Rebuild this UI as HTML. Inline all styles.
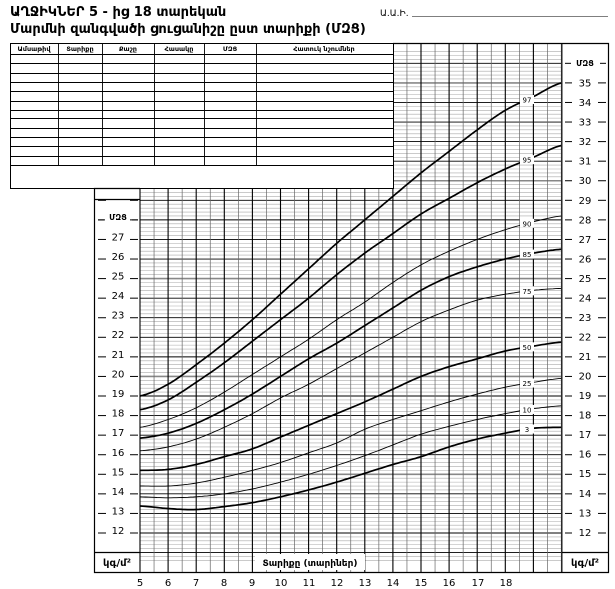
<!DOCTYPE html>
<html><head><meta charset="utf-8">
<style>
html,body{margin:0;padding:0;background:#fff;}
svg{display:block;}
text{font-family:"DejaVu Sans","Liberation Sans",sans-serif;}
</style></head>
<body>
<svg id="s" width="615" height="589" viewBox="0 0 615 589" xmlns="http://www.w3.org/2000/svg">
<g id="grid"></g>
<g id="curves"></g>
<!-- table cover -->
<rect x="0" y="40" width="393" height="148" fill="#fff"/>
<rect x="10.5" y="43.5" width="383" height="145" fill="#fff" stroke="#000" stroke-width="1"/>
<g id="tbl" stroke="#000" stroke-width="0.9"></g>
<g font-size="6.5" font-weight="bold" text-anchor="middle">
<text x="34" y="51">Ամսաթիվ</text><text x="80" y="51">Տարիքը</text><text x="128" y="51">Քաշը</text>
<text x="179" y="51">Հասակը</text><text x="230" y="51">ՄԶՑ</text><text x="324" y="51">Հատուկ նշումներ</text>
</g>
<!-- titles -->
<text x="10" y="16" font-size="13" font-weight="bold">ԱՂՋԻԿՆԵՐ  5 - ից 18 տարեկան</text>
<text x="10" y="33" font-size="13" font-weight="bold">Մարմնի զանգվածի ցուցանիշը ըստ տարիքի (ՄԶՑ)</text>
<text x="380" y="16" font-size="9">Ա.Ա.Ի.</text>
<line x1="412" y1="16.5" x2="608" y2="16.5" stroke="#555" stroke-width="0.8"/>
<!-- frames -->
<g fill="none" stroke="#000" stroke-width="1.2">
<polyline points="393,43.5 608.5,43.5 608.5,572.5 94.5,572.5 94.5,188.5 140,188.5"/>
<line x1="94" y1="199.5" x2="140" y2="199.5"/>
<line x1="94" y1="552.5" x2="140" y2="552.5"/>
<line x1="562" y1="552.5" x2="608" y2="552.5"/>
</g>
<rect x="255" y="554" width="110" height="16" fill="#fff"/>
<text x="310" y="566" font-size="9" text-anchor="middle" font-weight="bold">Տարիքը (տարիներ)</text>
<text x="117" y="566" font-size="10" text-anchor="middle" font-weight="bold">կգ/մ²</text>
<text x="585" y="566" font-size="10" text-anchor="middle" font-weight="bold">կգ/մ²</text>
<g font-size="10" text-anchor="middle" fill="#000">
<rect x="105" y="212" width="24" height="10" fill="#fff"/>
<text x="118" y="220" font-size="8" font-weight="bold">ՄԶՑ</text>
<text x="585" y="66" font-size="8" font-weight="bold">ՄԶՑ</text>
<text x="118" y="240.5">27</text><text x="118" y="260">26</text><text x="118" y="279.5">25</text><text x="118" y="299">24</text><text x="118" y="318.5">23</text><text x="118" y="338">22</text><text x="118" y="358">21</text><text x="118" y="377.5">20</text><text x="118" y="397">19</text><text x="118" y="416.5">18</text><text x="118" y="436">17</text><text x="118" y="456">16</text><text x="118" y="475.5">15</text><text x="118" y="495">14</text><text x="118" y="514.5">13</text><text x="118" y="534">12</text>
<text x="585" y="86.5">35</text><text x="585" y="106">34</text><text x="585" y="125.5">33</text><text x="585" y="145">32</text><text x="585" y="164.5">31</text><text x="585" y="184">30</text><text x="585" y="204">29</text><text x="585" y="223.5">28</text><text x="585" y="243">27</text><text x="585" y="262.5">26</text><text x="585" y="282">25</text><text x="585" y="301.5">24</text><text x="585" y="321">23</text><text x="585" y="340.5">22</text><text x="585" y="360">21</text><text x="585" y="379.5">20</text><text x="585" y="399">19</text><text x="585" y="418.5">18</text><text x="585" y="438">17</text><text x="585" y="457.5">16</text><text x="585" y="477">15</text><text x="585" y="497">14</text><text x="585" y="516.5">13</text><text x="585" y="536">12</text>
</g>
<g font-size="10" text-anchor="middle">
<text x="140" y="586">5</text><text x="168" y="586">6</text><text x="196" y="586">7</text><text x="224" y="586">8</text><text x="252" y="586">9</text><text x="281" y="586">10</text><text x="309" y="586">11</text><text x="337" y="586">12</text><text x="365" y="586">13</text><text x="393" y="586">14</text><text x="421" y="586">15</text><text x="449" y="586">16</text><text x="478" y="586">17</text><text x="506" y="586">18</text>
</g>
<g id="labs" font-size="7" text-anchor="middle">
<text x="527" y="110">97</text><text x="527" y="168">95</text><text x="527" y="229">90</text><text x="527" y="262">85</text><text x="527" y="301">75</text><text x="527" y="350">50</text><text x="527" y="386">25</text><text x="527" y="411">10</text><text x="527" y="432">3</text>
</g>
</svg>
<script>
var NS="http://www.w3.org/2000/svg";
function L(g,x1,y1,x2,y2,c,w){var l=document.createElementNS(NS,"line");l.setAttribute("x1",x1);l.setAttribute("y1",y1);l.setAttribute("x2",x2);l.setAttribute("y2",y2);l.setAttribute("stroke",c);l.setAttribute("stroke-width",w);g.appendChild(l);}
function Y(v){return 533-(v-12)*19.57;}
function X(a){return 140+(a-5)*28.1;}
var g=document.getElementById("grid");
// horizontal
for(var k=0;k<=130;k++){var v=10.6+k*0.2;var y=Y(v);if(y<44||y>569)continue;
 var unit=Math.abs(v-Math.round(v))<0.01;var five=unit&&Math.round(v)%5==0;
 L(g,140,y,562,y,unit?(five?"#888":"#000"):"#aaa",unit?(five?1.6:0.9):0.6);}
// vertical
for(var h=0;h<=30;h++){var a=5+h*0.5;var x=X(a);var yr=h%2==0;
 L(g,x,44,x,572,yr?"#000":"#666",yr?1.1:0.7);}
L(g,562,44,562,572,"#444",1.2);
// ticks on axes
for(var v=12;v<=35;v++){var y=Y(v);if(y>200){L(g,98,y,106,y,"#000",1);L(g,130,y,138,y,"#000",1);}
 L(g,565,y,572,y,"#000",1);L(g,598,y,606,y,"#000",1);}
var yq=Y(28);L(g,98,yq,104,yq,"#000",1);L(g,132,yq,138,yq,"#000",1);
L(g,565,Y(36),571,Y(36),"#000",1);L(g,600,Y(36),606,Y(36),"#000",1);
// table
var t=document.getElementById("tbl");
[54,63,73,82,91,101,110,118,128,137,146,156,165].forEach(function(y){L(t,10,y+.5,393,y+.5,"#000",0.9);});
[58,102,154,204,256].forEach(function(x){L(t,x+.5,43,x+.5,165,"#000",0.9);});
// curves
var D={
97:[19.0,19.6,20.6,21.7,22.9,24.2,25.5,26.8,28.0,29.2,30.4,31.5,32.6,33.6,34.3,35.0],
95:[18.3,18.8,19.7,20.7,21.8,22.9,24.0,25.2,26.3,27.3,28.3,29.1,29.9,30.6,31.2,31.8],
90:[17.4,17.8,18.4,19.2,20.1,21.0,21.9,22.9,23.8,24.8,25.7,26.4,27.0,27.5,27.9,28.2],
85:[16.85,17.1,17.6,18.3,19.1,20.0,20.9,21.7,22.6,23.5,24.4,25.1,25.6,26.0,26.3,26.5],
75:[16.2,16.4,16.8,17.4,18.1,18.9,19.6,20.4,21.2,22.0,22.8,23.4,23.9,24.2,24.4,24.5],
50:[15.2,15.25,15.5,15.9,16.3,16.9,17.5,18.1,18.7,19.35,20.0,20.5,20.9,21.3,21.55,21.75],
25:[14.4,14.4,14.55,14.85,15.2,15.6,16.1,16.6,17.3,17.8,18.25,18.7,19.1,19.45,19.7,19.9],
10:[13.85,13.8,13.85,14.0,14.25,14.6,15.0,15.45,15.95,16.5,17.05,17.45,17.8,18.1,18.35,18.5],
3:[13.38,13.25,13.2,13.35,13.55,13.85,14.2,14.6,15.05,15.5,15.9,16.4,16.8,17.1,17.35,17.4]};
var thick={97:1,95:1,85:1,50:1,3:1};
var cg=document.getElementById("curves");
for(var p in D){var d=D[p];var pts=[];
 for(var s=0;s<=150;s++){var a=5+s*0.1;var i=Math.min(14,Math.floor(a-5));var f=a-5-i;
  var p0=d[Math.max(0,i-1)],p1=d[i],p2=d[i+1],p3=d[Math.min(15,i+2)];
  var v=0.5*((2*p1)+(-p0+p2)*f+(2*p0-5*p1+4*p2-p3)*f*f+(-p0+3*p1-3*p2+p3)*f*f*f);
  pts.push(X(a).toFixed(1)+","+Y(v).toFixed(1));}
 var pl=document.createElementNS(NS,"polyline");pl.setAttribute("points",pts.join(" "));pl.setAttribute("fill","none");
 pl.setAttribute("stroke","#000");pl.setAttribute("stroke-width",thick[p]?1.7:0.9);cg.appendChild(pl);
 var yl=Y(d[13]+(d[14]-d[13])*0.75);
 var r=document.createElementNS(NS,"rect");r.setAttribute("x",520);r.setAttribute("y",yl-5);r.setAttribute("width",14);r.setAttribute("height",9);r.setAttribute("fill","#fff");cg.appendChild(r);
}
// reposition labels
var labs=document.getElementById("labs").children;var order=[97,95,90,85,75,50,25,10,3];
for(var j=0;j<labs.length;j++){var d=D[order[j]];labs[j].setAttribute("y",(Y(d[13]+(d[14]-d[13])*0.75)+2.5).toFixed(1));}
</script>
</body></html>
